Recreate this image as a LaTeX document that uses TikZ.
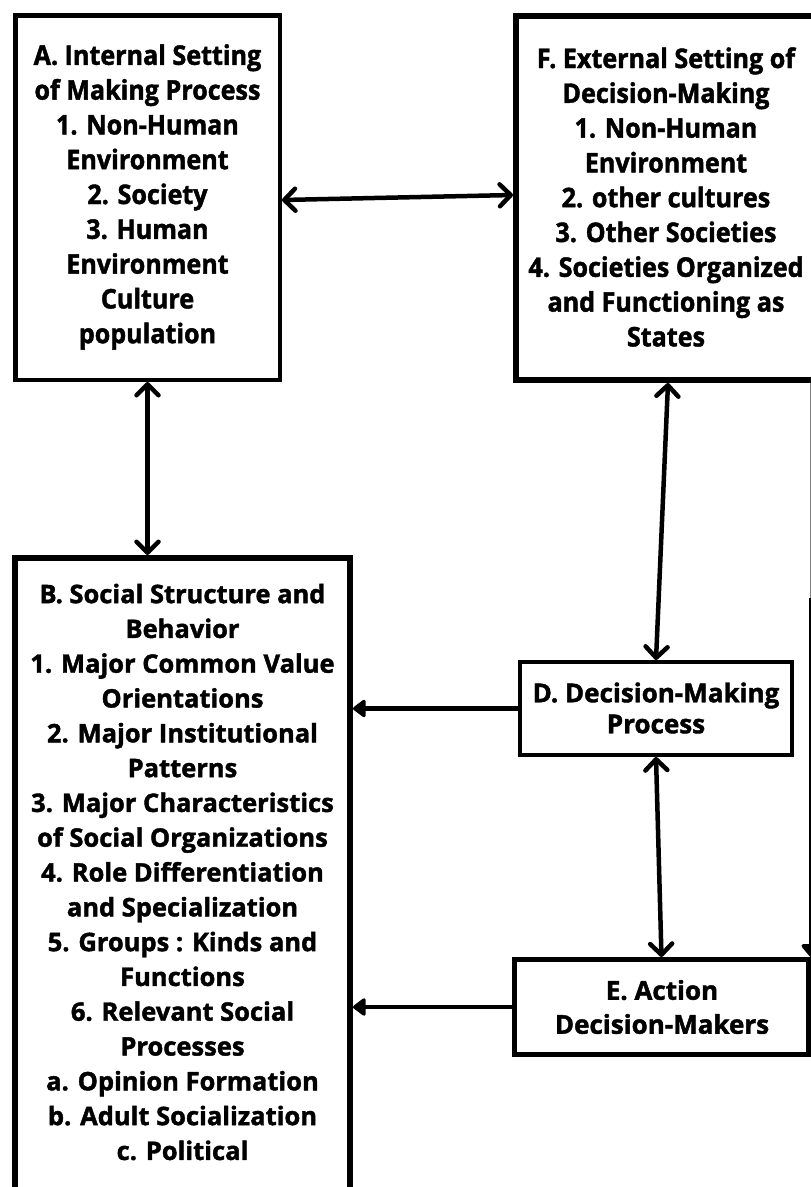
\documentclass[tikz,border=0pt]{standalone}
\usepackage{fontspec}
\setmainfont{Open Sans}
\newfontfamily\heavy{Open Sans}[FakeBold=1.6]
\newfontfamily\heavyn{Open Sans}[FakeBold=1.6, FakeStretch=0.93]
\usetikzlibrary{arrows.meta}
\begin{document}
\begin{tikzpicture}[x=1pt,y=-1pt,
  box/.style={draw, line width=#1, inner sep=0pt, align=center},
  txtA/.style={font=\heavyn\bfseries\fontsize{27}{34.8}\selectfont, align=center, inner sep=0pt},
  txtB/.style={font=\heavy\bfseries\fontsize{25.5}{34.8}\selectfont, align=center, inner sep=0pt},
  txtD/.style={font=\heavy\bfseries\fontsize{26}{#1}\selectfont, align=center, inner sep=0pt},
  bi/.style={line width=4.5pt, {Straight Barb[length=11pt,width=22pt,round]}-{Straight Barb[length=11pt,width=22pt,round]}},
  one/.style={line width=4.5pt, -{Triangle[length=14pt,width=20pt,round]}}
]
\useasboundingbox (0,0) rectangle (811,1187);
\clip (0,0) rectangle (811,1187);
\fill[white] (0,0) rectangle (811,1187);

% boxes
\node[box=4.5pt, minimum width=264.5pt, minimum height=364.5pt] (A) at (147.5,197.5) {};
\node[txtA] (At) at (147.5,197) {A. Internal Setting\\of Making Process\\1. Non-Human\\Environment\\2. Society\\3. Human\\Environment\\Culture\\population};

\node[box=6pt, minimum width=304pt, minimum height=364pt] (F) at (668,198) {};
\node[txtA] (Ft) at (666,197) {F. External Setting of\\Decision-Making\\1. Non-Human\\Environment\\2. other cultures\\3. Other Societies\\4. Societies Organized\\and Functioning as\\States};

\node[box=6pt, minimum width=335pt, minimum height=660pt] (B) at (182.5,888) {};
\node[txtB] (Bt) at (182.5,872) {B. Social Structure and\\Behavior\\1. Major Common Value\\Orientations\\2. Major Institutional\\Patterns\\3. Major Characteristics\\of Social Organizations\\4. Role Differentiation\\and Specialization\\5. Groups : Kinds and\\Functions\\6. Relevant Social\\Processes\\a. Opinion Formation\\b. Adult Socialization\\c. Political};

\node[box=4pt, minimum width=272pt, minimum height=93pt] (D) at (656,708.5) {};
\node[txtD=31] (Dt) at (656,708) {D. Decision-Making\\Process};

\node[box=5pt, minimum width=294pt, minimum height=95pt] (E) at (661.5,1007) {};
\node[txtD=34] (Et) at (662,1007) {E. Action\\Decision-Makers};

% connectors
\draw[bi] ([yshift=-2.5pt]A.east) -- ([yshift=3pt]F.west);
\draw[bi] (A.south) -- (A.south |- B.north);
\draw[bi] (F.south) -- (D.north);
\draw[bi] (D.south) -- (E.north);
\draw[one] (D.west) -- (D.west -| B.east);
\draw[one] (E.west) -- (E.west -| B.east);
\coordinate (R) at (E.north east |- F.south);
\coordinate (R2) at ([yshift=-215pt]R);
\draw[line width=1.5pt, gray] (R) -- (R2);
\draw[line width=3.5pt, -{Triangle[length=14pt,width=22pt,round]}] (R2) -- (E.north east);
\end{tikzpicture}
\end{document}
